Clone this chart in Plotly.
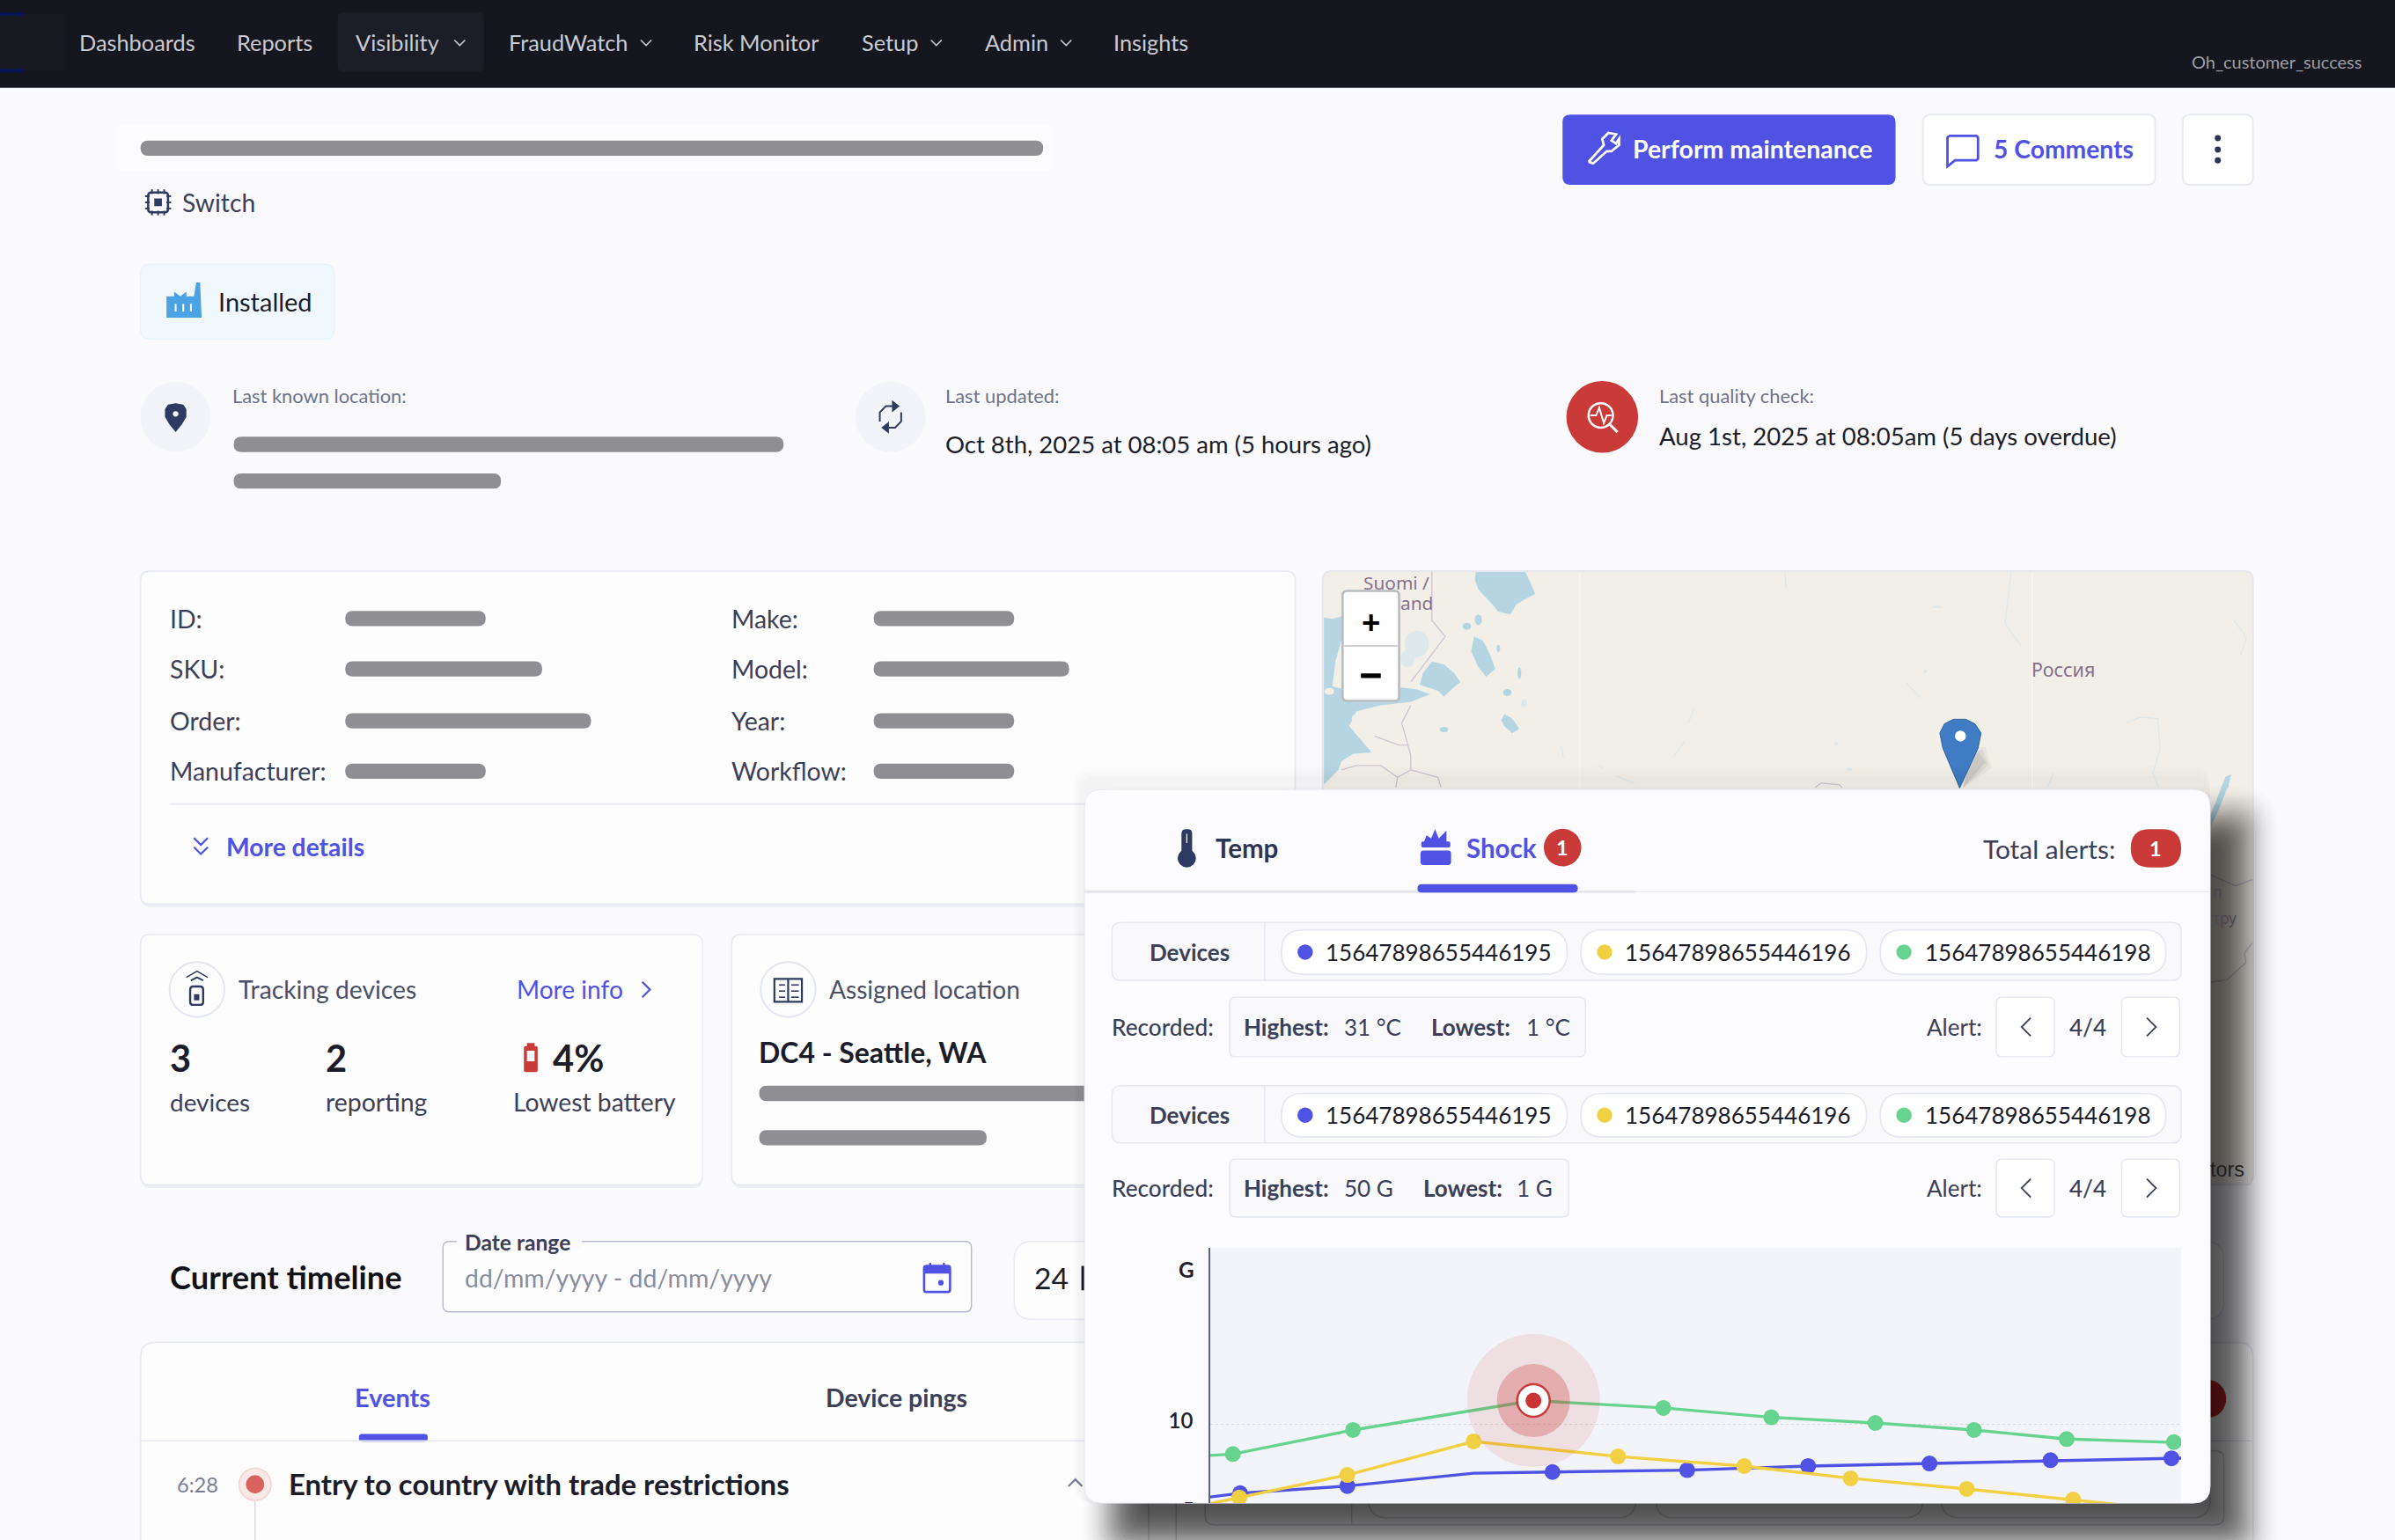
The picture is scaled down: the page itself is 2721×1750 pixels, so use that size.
import math
import plotly.graph_objects as go

# ---------- chart data (Shock, in G, over a 24 h window) ----------
green_hours = [0, 0.56, 3.53, 7.99, 11.2, 13.87, 16.44, 18.88, 21.17, 23.82, 24]
green_g = [8.2, 8.28, 9.69, 11.41, 10.98, 10.43, 10.1, 9.69, 9.16, 8.98, 8.95]
yellow_hours = [0, 0.72, 3.39, 6.51, 10.08, 13.2, 15.83, 18.7, 21.33, 23.94]
yellow_g = [5.38, 5.74, 7.06, 9.02, 8.14, 7.58, 6.86, 6.24, 5.62, 4.96]
blue_hours = [0, 0.74, 3.39, 6.51, 8.46, 11.79, 14.78, 17.78, 20.77, 23.76, 24]
blue_g = [5.77, 5.99, 6.41, 7.16, 7.23, 7.34, 7.58, 7.73, 7.92, 8.03, 8.04]
green_marker_hours = green_hours[1:3] + green_hours[4:-1]
green_marker_g = green_g[1:3] + green_g[4:-1]
yellow_marker_hours = yellow_hours[1:]
yellow_marker_g = yellow_g[1:]
blue_marker_hours = blue_hours[1:3] + blue_hours[4:-1]
blue_marker_g = blue_g[1:3] + blue_g[4:-1]
alert_hour = [7.99]
alert_g = [11.41]
tick_values = [10]
tick_labels = ["10"]
device_ids = ["15647898655446195", "15647898655446196", "15647898655446198"]
nav_items = ["Dashboards", "Reports", "Visibility", "FraudWatch", "Risk Monitor", "Setup", "Admin", "Insights"]

W, H = 2721, 1750
DW, DH = 1568.0, 1568.0 * H / W
BLUE, YEL, GRN, RED = "#4f52e3", "#f2d043", "#66d48f", "#c93a38"
INK, SLATE, GRAY = "#1c1d2a", "#3b4058", "#8e8e93"
FONT = "Lato"
BORDER = "#e8eaf2"


def X(x):
    return x / DW


def Y(y):
    return 1 - y / DH


shapes, notes = [], []


def rrect(x0, y0, x1, y1, r=0, fill="rgba(0,0,0,0)", line=None, lw=1):
    r = min(r, (x1 - x0) / 2, (y1 - y0) / 2)
    p = [("M", x0 + r, y0), ("L", x1 - r, y0), ("Q", x1, y0, x1, y0 + r), ("L", x1, y1 - r),
         ("Q", x1, y1, x1 - r, y1), ("L", x0 + r, y1), ("Q", x0, y1, x0, y1 - r), ("L", x0, y0 + r),
         ("Q", x0, y0, x0 + r, y0)]
    d = ""
    for seg in p:
        vals = seg[1:]
        coords = " ".join(f"{X(vals[i]):.6f},{Y(vals[i + 1]):.6f}" for i in range(0, len(vals), 2))
        d += f"{seg[0]} {coords} "
    shapes.append(dict(type="path", path=d + "Z", xref="paper", yref="paper", layer="below", fillcolor=fill,
                       line=dict(color=line or "rgba(0,0,0,0)", width=lw if line else 0)))


def circ(x, y, r, fill="rgba(0,0,0,0)", line=None, lw=1, ry=None):
    ry = ry or r
    shapes.append(dict(type="circle", xref="paper", yref="paper", layer="below", x0=X(x - r), x1=X(x + r),
                       y0=Y(y + ry), y1=Y(y - ry), fillcolor=fill,
                       line=dict(color=line or "rgba(0,0,0,0)", width=lw if line else 0)))


def path(pts, color=None, lw=2, fill=None, close=False):
    d = "M " + " L ".join(f"{X(a):.6f},{Y(b):.6f}" for a, b in pts)
    if close:
        d += " Z"
    shapes.append(dict(type="path", path=d, xref="paper", yref="paper", layer="below",
                       fillcolor=fill or "rgba(0,0,0,0)",
                       line=dict(color=color or "rgba(0,0,0,0)", width=lw if color else 0)))


def txt(x, y, s, size=16, color=SLATE, anchor="left", weight=400, font=FONT):
    notes.append(dict(x=X(x), y=Y(y), xref="paper", yref="paper", text=s, showarrow=False, xanchor=anchor,
                      yanchor="middle", borderpad=0, borderwidth=0,
                      font=dict(family=font, size=size * W / DW, color=color, weight=weight)))


def bar(x0, x1, y):
    rrect(x0, y - 5, x1, y + 5, 5, fill=GRAY)


def chev(x, y, s=4, color=SLATE, lw=2, d="down"):
    if d == "down":
        path([(x - s, y - s / 2), (x, y + s / 2), (x + s, y - s / 2)], color, lw)
    elif d == "up":
        path([(x - s, y + s / 2), (x, y - s / 2), (x + s, y + s / 2)], color, lw)
    elif d == "left":
        path([(x + s / 2, y - s), (x - s / 2, y), (x + s / 2, y + s)], color, lw)
    else:
        path([(x - s / 2, y - s), (x + s / 2, y), (x - s / 2, y + s)], color, lw)


# ---------- page ----------
rrect(0, 0, DW, DH, 0, fill="#fafafd")
rrect(0, 0, DW, 57.5, 0, fill="#15161e")
rrect(0, 8, 44, 47, 0, fill="#17181f")
rrect(0, 8, 16, 10.5, 0, fill="#0a1550")
rrect(0, 45, 16, 47.5, 0, fill="#0a1550")
rrect(221, 8, 317, 47, 4, fill="#1c1d26")
for name, x in zip(nav_items, [52, 155, 233, 333, 454, 564, 645, 729]):
    txt(x, 27.6, name, 14.6, "#c9cad1")
for x in [301, 423, 613, 698]:
    chev(x, 28, 3.5, "#c9cad1", 1.6)
txt(1546, 40.5, "Oh_customer_success", 11.5, "#9d9ea6", "right")

rrect(76, 82, 689, 112, 0, fill="#fcfcfe")
rrect(92, 92, 683, 102, 5, fill=GRAY)
# switch icon
rrect(97, 126, 110, 139, 2, line="#2f3a62", lw=2.5)
rrect(101, 130, 106, 135, 0, fill="#2f3a62")
for v in [-4, 0, 4]:
    path([(103.5 + v, 124), (103.5 + v, 127)], "#2f3a62", 2)
    path([(103.5 + v, 138), (103.5 + v, 141)], "#2f3a62", 2)
    path([(95, 132.5 + v), (98, 132.5 + v)], "#2f3a62", 2)
    path([(109, 132.5 + v), (112, 132.5 + v)], "#2f3a62", 2)
txt(119, 132.6, "Switch", 16.3, SLATE)

rrect(92, 173, 219, 222, 6, fill="#f0f8fe", line="#e4f1fb")
path([(109, 208), (109, 194), (114, 194), (114, 191), (118, 194), (122, 191), (122, 194), (127, 194), (128.5, 185),
      (131, 185), (132, 208)], fill="#4ba3e3", close=True)
for x in [115, 120, 125]:
    path([(x, 199), (x, 204)], "#ffffff", 2)
txt(143, 197.6, "Installed", 16.7, INK)

# location strip
circ(115, 273, 23, fill="#f3f4f9")
path([(108, 268), (110, 265), (115, 264), (120, 265), (122, 268), (122, 273), (119, 278), (115, 283), (111, 278),
      (108, 273)], fill="#2f3a62", close=True)
circ(115, 271, 1.8, fill="#f3f4f9")
txt(152, 259, "Last known location:", 12.6, "#6e7288")
bar(153, 513, 291)
bar(153, 328, 315)
circ(583, 273, 23, fill="#f3f4f9")
path([(576, 276), (576, 270), (580, 266), (586, 266)], "#2f3a62", 2)
path([(590, 270), (590, 276), (586, 280), (580, 280)], "#2f3a62", 2)
path([(584, 262), (589, 266), (584, 270)], fill="#2f3a62", close=True)
path([(582, 276), (577, 280), (582, 284)], fill="#2f3a62", close=True)
txt(619, 259, "Last updated:", 12.6, "#6e7288")
txt(619, 290.6, "Oct 8th, 2025 at 08:05 am (5 hours ago)", 15.85, INK)
circ(1049, 273, 23.5, fill=RED)
circ(1048, 272, 8, line="#ffffff", lw=2.5)
path([(1054, 278), (1059, 283)], "#ffffff", 3)
path([(1041, 272), (1045, 272), (1047, 267), (1050, 277), (1052, 272), (1055, 272)], "#ffffff", 2)
txt(1086, 259, "Last quality check:", 12.6, "#6e7288")
txt(1086, 285.6, "Aug 1st, 2025 at 08:05am (5 days overdue)", 15.9, INK)

# header buttons
rrect(1023, 75, 1241, 121, 5, fill=BLUE)
path([(1040, 106), (1050, 95), (1049, 91), (1053, 87), (1058, 88), (1055, 92), (1058, 94), (1060, 91), (1060, 95),
      (1055, 99), (1052, 99), (1043, 107), (1040, 106)], "#ffffff", 2.8)
txt(1069, 97.5, "Perform maintenance", 16.4, "#ffffff", weight=700)
rrect(1259, 75, 1411, 121, 5, fill="#ffffff", line=BORDER, lw=2)
path([(1276, 89), (1294, 89), (1295, 90), (1295, 104), (1294, 105), (1280, 105), (1275, 109), (1275, 90), (1276, 89)],
     BLUE, 2.8)
txt(1305, 97.5, "5 Comments", 16.3, BLUE, weight=700)
rrect(1429, 75, 1475, 121, 5, fill="#ffffff", line=BORDER, lw=2)
for y in [90.5, 98, 105]:
    circ(1452, y, 2, fill="#2d3557")

# ---------- details card ----------
rrect(92.5, 376, 848, 594, 6, fill="#eeeff4")
rrect(92, 374, 848, 592, 6, fill="#fdfdfe", line=BORDER, lw=1.6)
for lab, y, x1 in zip(["ID:", "SKU:", "Order:", "Manufacturer:"], [405, 438, 472, 505], [318, 355, 387, 318]):
    txt(111, y, lab, 16.4, SLATE)
    bar(226, x1, y)
for lab, y, x1 in zip(["Make:", "Model:", "Year:", "Workflow:"], [405, 438, 472, 505], [664, 700, 664, 664]):
    txt(479, y, lab, 16.4, SLATE)
    bar(572, x1, y)
path([(111, 526.5), (848, 526.5)], "#e6e8f2", 1.6)
chev(131.5, 551, 4.5, BLUE, 2.2)
chev(131.5, 557, 4.5, BLUE, 2.2)
txt(148, 554.6, "More details", 16.3, BLUE, weight=700)

# ---------- small cards ----------
for x0, x1 in [(92, 460), (479, 730)]:
    rrect(x0 + .5, 614, x1, 778, 6, fill="#eeeff4")
    rrect(x0, 612, x1, 776, 6, fill="#fdfdfe", line=BORDER, lw=1.6)
circ(129, 648, 18, line="#e4e6f0", lw=2)
rrect(124.5, 646, 133, 658, 2, line="#2f3a62", lw=2.4)
rrect(127, 651, 130.5, 655, 0, fill="#2f3a62")
path([(125, 642), (129, 640), (133, 642)], "#2f3a62", 2)
path([(122, 640), (129, 636), (136, 640)], "#2f3a62", 1.6)
txt(156, 647.6, "Tracking devices", 16.3, "#4a4f68")
txt(338, 647.6, "More info", 16.2, BLUE)
chev(423, 648, 5, BLUE, 2.2, "right")
txt(111, 692.5, "3", 24, INK, weight=700)
txt(111, 721.6, "devices", 16.1, SLATE)
txt(213, 692.5, "2", 24, INK, weight=700)
txt(213, 721.6, "reporting", 16.4, SLATE)
rrect(343, 685, 352, 702, 1, fill=RED)
rrect(345, 683, 350, 686, 0, fill=RED)
rrect(345, 688, 350, 695, 0, fill="#ffffff")
txt(362, 692.5, "4%", 24, INK, weight=700)
txt(336, 721.6, "Lowest battery", 16.3, SLATE)
circ(516, 648, 18, line="#e4e6f0", lw=2)
rrect(507, 641, 525, 656, 0, line="#2f3a62", lw=2.2)
path([(516, 641), (516, 656)], "#2f3a62", 2.2)
for y in [645, 649, 653]:
    path([(510, y), (514, y)], "#2f3a62", 1.6)
    path([(518, y), (523, y)], "#2f3a62", 1.6)
txt(543, 647.6, "Assigned location", 16.2, "#4a4f68")
txt(497, 689, "DC4 - Seattle, WA", 18.4, INK, weight=700)
rrect(497, 711, 720, 721, 5, fill=GRAY)
bar(497, 646, 745)

# ---------- timeline ----------
txt(111, 836, "Current timeline", 20.9, "#111218", weight=700)
rrect(290, 813, 636, 859, 4, fill="#fdfdfe", line="#b9bccd", lw=1.5)
rrect(299, 808, 381, 818, 0, fill="#fafafd")
txt(304, 813.6, "Date range", 14.2, SLATE, weight=700)
txt(304, 836.6, "dd/mm/yyyy - dd/mm/yyyy", 16.4, "#8a8d9e")
rrect(605, 829, 622, 846, 1.5, line=BLUE, lw=2.6)
rrect(605, 829, 622, 834, 0, fill=BLUE)
path([(609, 827), (609, 830)], BLUE, 2.4)
path([(618, 827), (618, 830)], BLUE, 2.4)
circ(616, 840, 1.8, fill=BLUE)
rrect(664, 813, 1456, 864, 12, fill="#fdfdfe", line=BORDER, lw=1.5)
txt(677, 836.6, "24", 19.4, INK)
rrect(708, 829, 710, 845, 0, fill=INK)

rrect(92, 879, 1475, 1030, 10, fill="#fdfdfe", line=BORDER, lw=1.8)
txt(257, 915, "Events", 16.7, BLUE, "center", weight=700)
rrect(235, 939, 280, 944, 2, fill=BLUE)
txt(587, 915, "Device pings", 16.4, SLATE, "center", weight=700)
path([(92, 943.5), (1475, 943.5)], "#e6e8f2", 1.6)
txt(116, 972, "6:28", 13.6, "#7a7d90")
path([(167, 983), (167, 1010)], "#d5d7e2", 1.4)
circ(167, 972, 10.5, fill="#fbe9e8", line="#f3d3d2", lw=1.5)
circ(167, 972, 6, fill="#d9625e")
txt(189, 971.6, "Entry to country with trade restrictions", 18.95, INK, weight=700)
chev(704, 971, 4.5, "#7b7d90", 2.2, "up")
circ(1445, 916, 12.5, fill=RED)
path([(752, 984), (752, 1010)], "#cfd1e2", 1.2)
path([(770, 984), (770, 1010)], "#cfd1e2", 1.2)

# device row hidden under the popup
rrect(789, 950, 1456, 998.5, 6, fill="#fdfdfe", line="#d8dae6", lw=1.4)
path([(885, 950), (885, 998.5)], "#d8dae6", 1.2)
for x0, x1, col in [(896, 1071, BLUE), (1084, 1259, YEL), (1271, 1447, GRN)]:
    rrect(x0, 950, x1, 994, 12, fill="#ffffff", line="#d8dae6", lw=1.4)

# ---------- map ----------
MAPL, MAPR, MAPT, MAPB = 866, 1475, 374, 776
rrect(MAPL, MAPT, MAPR, MAPB, 6, fill="#f2efe9", line="#e6e7ee", lw=2)


def z6(p):
    return [(864.4 + a * 0.395, 371.7 + b * 0.192) for a, b in p]


def z7(p):
    return [((2480 + a / 3) * DW / W, (880 + b / 1.8) * DW / W) for a, b in p]


WATER = "#b4d5e1"
PALE = "#dde8ea"
path(z6([(6, 170), (20, 175), (38, 165), (36, 240), (25, 320), (20, 405), (60, 425), (130, 408), (160, 415), (182, 432),
         (150, 458), (100, 470), (60, 490), (48, 540), (60, 570), (85, 630), (55, 635), (35, 660), (30, 690), (6, 740)]),
     fill=WATER, close=True)
path(z6([(258, 15), (340, 15), (348, 50), (356, 90), (342, 105), (325, 125), (315, 160), (295, 150), (285, 125),
         (262, 75), (256, 40)]), fill=WATER, close=True)
path(z6([(185, 320), (205, 330), (222, 360), (232, 390), (220, 410), (205, 440), (195, 420), (165, 400), (170, 360)]),
     fill=WATER, close=True)
path(z6([(255, 235), (270, 250), (282, 300), (290, 345), (275, 372), (262, 340), (250, 285)]), fill=WATER, close=True)
path(z6([(305, 500), (318, 515), (330, 550), (318, 565), (305, 540), (300, 520)]), fill=WATER, close=True)
for cx, cy, rx, ry, col in [(160, 260, 20, 45, PALE), (145, 310, 12, 30, PALE), (243, 200, 7, 12, WATER),
                            (262, 178, 6, 18, WATER), (310, 426, 7, 12, WATER), (205, 552, 7, 9, WATER),
                            (15, 422, 8, 12, "#f2efe9"), (60, 515, 8, 15, "#f2efe9"), (330, 360, 3, 20, WATER),
                            (338, 462, 5, 14, PALE), (295, 275, 3, 12, WATER), (1022, 134, 7, 4, PALE),
                            (855, 600, 4, 5, PALE), (877, 688, 5, 6, PALE), (1003, 355, 3, 6, PALE)]:
    circ(864.4 + cx * 0.395, 371.7 + cy * 0.192, rx * 0.395, fill=col, ry=ry * 0.192)
path(z6([(1492, 750), (1508, 705), (1505, 752)]), fill=WATER, close=True)
for seg in [[(770, 15), (772, 70)], [(1145, 15), (1135, 190), (1162, 270)], [(620, 480), (610, 530)],
            [(605, 590), (585, 645)], [(460, 670), (470, 690)], [(490, 710), (520, 735)],
            [(1335, 530), (1360, 510), (1388, 515), (1392, 620), (1380, 700), (1390, 750)],
            [(1515, 180), (1535, 240), (1525, 300)],
            [(400, 610), (403, 650)], [(1215, 700), (1205, 750)], [(970, 390), (995, 445)]]:
    path(z6(seg), PALE, 1.2)
BORD = "#cfc3d2"
for seg in [[(185, 15), (185, 180), (207, 235), (150, 390)], [(150, 470), (135, 530), (150, 640), (150, 690)],
            [(90, 575), (130, 605), (145, 605)], [(35, 690), (60, 675), (100, 675), (128, 715), (150, 690), (195, 715),
                                                  (200, 750)], [(128, 715), (125, 750)],
            [(820, 750), (830, 735), (860, 740), (865, 750)]]:
    path(z6(seg), BORD, 1.3)
for x in [430, 1180]:
    path(z6([(x, 15), (x, 752)]), "#fbfaf7", 1.2)
path(z7([(92, 205), (180, 228), (238, 215)]), BORD, 1.4)
path(z7([(92, 425), (150, 420), (215, 385), (210, 365), (236, 345)]), BORD, 1.4)
path(z7([(92, 110), (120, 75), (150, 30), (165, 0), (145, 5), (110, 60), (92, 85)]), fill=WATER, close=True)
txt(914.5, 381.5, "Suomi /", 12, "#86708c", "center", font="Noto Sans")
txt(917, 395, "and", 12, "#86708c", font="Noto Sans")
txt(1330, 438, "Россия", 12.4, "#86708c", font="Noto Sans")
rrect(879, 387, 916, 459, 3, fill="#ffffff", line="#b9bcbe", lw=2.6)
path([(880, 423), (915, 423)], "#cfd0d2", 2)
txt(897.5, 407.5, "+", 21, "#000000", "center", weight=700, font="Liberation Sans")
rrect(891, 441, 904, 444, 0, fill="#000000")
for k, a in [(0, .05), (2, .07), (4, .09)]:
    path([(1285, 516), (1293 - k, 490 + k), (1300 - k, 489 + k), (1304 - k, 503 - k)], fill=f"rgba(60,60,60,{a})", close=True)
path([(1283, 516), (1272, 490), (1270, 480), (1273, 474), (1279, 471), (1287, 471), (1293, 474), (1297, 480), (1295, 490)],
     fill="#3f7cc3", close=True, color="#2f659f", lw=1)
circ(1283.5, 486 - 4, 3.6, fill="#ffffff")
rrect(1447, 757, 1474, 775, 0, fill="#f0efee")

# ---------- popup shadow + popup ----------
for k in range(3):
    rrect(706 - k * 1.5, 508 - k * 3, 1447, 984, 12, fill="rgba(0,0,0,0.01)")
N = 36
weights = [math.exp(-((2 * i / (N - 1) - 1) ** 2) / (2 * 0.5 ** 2)) for i in range(N)]
total = sum(weights)
for i in range(N):
    d = 24 - i * 48 / (N - 1)
    a = 1 - (1 - 0.66) ** (weights[i] / total)
    rrect(732 - d, 539 - d, 1467 + d, 1006 + d, max(2, 26 - i * 0.7), fill=f"rgba(0,0,0,{a:.4f})")
rrect(710, 517, 1447, 984.3, 11, fill="#fcfcff", line="#e8e9f2", lw=1)

# text shown inside the shadow on the map strip
txt(1447, 766, "tors", 13.4, "#1f1f1f", font="Liberation Sans")
txt(1449, 584, "п", 10, "#4c4450", font="Noto Sans")
txt(1449, 601, "тру", 10, "#4c4450", font="Noto Sans")

# tabs
path([(710, 584), (1447, 584)], "#e8e9f0", 1.2)
path([(710, 584), (1071, 584)], "#e3e4ec", 2.8)
rrect(928, 579, 1033, 584.5, 3, fill=BLUE)
rrect(773.5, 543, 780.5, 562, 3, fill="#2f3a62")
circ(777, 562, 6, fill="#2f3a62")
path([(777, 546), (777, 552)], "#ffffff", 1.2)
txt(796, 555, "Temp", 17, "#2d3557", weight=700)
rrect(930, 557, 950, 566.5, 2, fill=BLUE)
rrect(930.5, 551, 949.5, 555, 1, fill=BLUE)
path([(932, 552), (934, 547), (937, 549), (939.5, 543), (942, 549), (947, 544), (947, 552)], fill=BLUE, close=True)
txt(960, 555, "Shock", 17, BLUE, weight=700)
circ(1023, 555, 12.3, fill=RED)
txt(1023, 555, "1", 13.5, "#ffffff", "center", weight=700)
txt(1385, 556, "Total alerts:", 17.2, SLATE, "right")
rrect(1395, 543, 1428, 568, 12.5, fill=RED)
txt(1411.5, 555.5, "1", 13.5, "#ffffff", "center", weight=700)

# device rows
for y0, y1, cy0, cy1 in [(604, 642, 609, 638), (711, 748.5, 716, 744.5)]:
    rrect(728, y0, 1428, y1, 6, fill="#f9f9fc", line="#e4e6f0", lw=1.4)
    path([(828, y0), (828, y1)], "#e4e6f0", 1.4)
    mid = (cy0 + cy1) / 2
    txt(779, mid, "Devices", 15, SLATE, "center", weight=700)
    for x0, dev, col in zip([839, 1035, 1231], device_ids, [BLUE, YEL, GRN]):
        rrect(x0, cy0, x0 + 187, cy1, 14, fill="#ffffff", line="#e4e6f0", lw=1.6)
        circ(x0 + 15.5, mid, 5, fill=col)
        txt(x0 + 29, mid, dev, 15, INK)

for ybox0, ybox1, xr, hi, lo, x_hi, x_lo, x_lov in [
    (653, 692, 1038, "31 °C", "1 °C", 880, 937, 999),
    (759, 797, 1027, "50 G", "1 G", 880, 932, 993),
]:
    mid = (ybox0 + ybox1) / 2
    txt(728, mid, "Recorded:", 15.1, SLATE, weight=500)
    rrect(805, ybox0, xr, ybox1, 4, fill="#f9f9fc", line="#e4e6f0", lw=1.4)
    txt(814, mid, "Highest:", 15, SLATE, weight=700)
    txt(x_hi, mid, hi, 15, SLATE)
    txt(x_lo, mid, "Lowest:", 15, SLATE, weight=700)
    txt(x_lov, mid, lo, 15, SLATE)
    txt(1298, mid, "Alert:", 15, SLATE, "right")
    rrect(1307, ybox0, 1345, ybox1, 4, fill="#ffffff", line="#e4e6f0", lw=1.4)
    rrect(1389, ybox0, 1427, ybox1, 4, fill="#ffffff", line="#e4e6f0", lw=1.4)
    chev(1326.5, mid, 6, SLATE, 1.8, "left")
    chev(1408.5, mid, 6, SLATE, 1.8, "right")
    txt(1367, mid, "4/4", 15, SLATE, "center", weight=500)

# chart background, then the G unit
rrect(792, 817, 1428, 984.3, 0, fill="#f3f4f9")
txt(777, 831, "G", 14, "#20212e", "center", weight=700)

# ---------- figure ----------
fig = go.Figure()
series = [
    (green_hours, green_g, green_marker_hours, green_marker_g, GRN),
    (blue_hours, blue_g, blue_marker_hours, blue_marker_g, BLUE),
    (yellow_hours, yellow_g, yellow_marker_hours, yellow_marker_g, YEL),
]
for hx, gy, mx, my, col in series:
    fig.add_trace(go.Scatter(x=hx, y=gy, mode="lines", line=dict(color=col, width=3.4), hoverinfo="skip"))
    fig.add_trace(go.Scatter(x=mx, y=my, mode="markers", marker=dict(color=col, size=18), hoverinfo="skip"))
for size, col in [(151, "rgba(201,58,56,0.113)"), (83, "rgba(201,58,56,0.30)"), (37, "#ffffff"), (18, "#cc3333")]:
    mk = dict(color=col, size=size, line=dict(width=0))
    if size == 37:
        mk["line"] = dict(color=RED, width=2.5)
    fig.add_trace(go.Scatter(x=alert_hour, y=alert_g, mode="markers", marker=mk, hoverinfo="skip"))

# clipped glyph remnants: device row text under the popup, lowest y tick at the popup edge
for x, s in [(837, "Devices"), (924, device_ids[0]), (1112, device_ids[1]), (1300, device_ids[2])]:
    fig.add_trace(go.Scatter(x=[x], y=[980.3], mode="text", text=[s], xaxis="x2", yaxis="y2",
                             textposition="middle center" if s == "Devices" else "middle right", hoverinfo="skip",
                             textfont=dict(family=FONT, size=27, color="#15151c")))
fig.add_trace(go.Scatter(x=[778], y=[4.85], mode="text", text=["5"], xaxis="x3", yaxis="y3", hoverinfo="skip",
                         textposition="middle center",
                         textfont=dict(family=FONT, size=24, color="#20212e", weight=700)))

y_lo, y_hi = 5.41, 20.36
axis_off = dict(visible=False, fixedrange=True, showgrid=False, zeroline=False)
fig.update_layout(
    width=W, height=H, margin=dict(l=0, r=0, t=0, b=0, pad=0), paper_bgcolor="#fafafd",
    plot_bgcolor="rgba(0,0,0,0)", showlegend=False, hovermode=False, shapes=shapes, annotations=notes,
    xaxis=dict(domain=[X(792.3), X(1428)], range=[0, 24], **axis_off),
    yaxis=dict(domain=[Y(984.3), Y(817)], range=[y_lo, y_hi], tickvals=tick_values, ticktext=tick_labels,
               showgrid=True, gridcolor="#d6d7df", griddash="dot", gridwidth=1, zeroline=False, showline=True,
               linecolor="#5d618c", linewidth=1.5, ticks="", ticklabelstandoff=13, ticklabelshift=-4, fixedrange=True,
               tickfont=dict(family=FONT, size=24, color="#20212e", weight=600)),
    xaxis2=dict(domain=[0, 1], range=[0, DW], anchor="y2", **axis_off),
    yaxis2=dict(domain=[0, Y(984.3)], range=[DH, 984.3], anchor="x2", **axis_off),
    xaxis3=dict(domain=[X(750), X(791)], range=[750, 791], anchor="y3", **axis_off),
    yaxis3=dict(domain=[Y(984.3), Y(817)], range=[y_lo, y_hi], anchor="x3", **axis_off),
)
fig.write_html("out.html", config=dict(displayModeBar=False, responsive=False),
               post_script="document.body.style.margin='0';document.body.style.overflow='hidden';")
